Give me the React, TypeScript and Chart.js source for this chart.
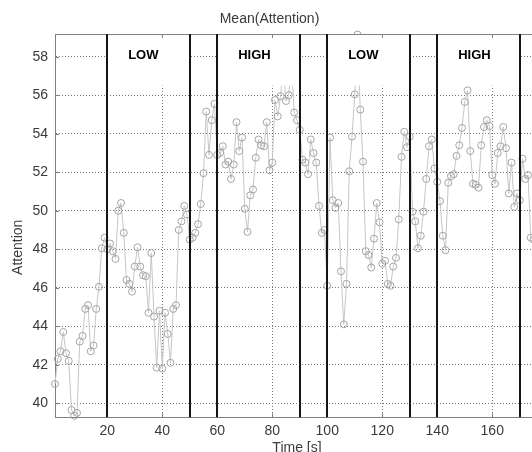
import React, { useEffect, useRef } from 'react';
import { Chart, registerables } from 'chart.js';

Chart.register(...registerables);

// ---- data ----
const TIME_START = 1; // first sample time [s], one sample per second
const attention: number[] = [
  41.0, 42.3, 42.7, 43.7, 42.6, 42.2, 39.65, 39.35, 39.5, 43.2,
  43.5, 44.9, 45.1, 42.7, 43.0, 44.9, 46.05, 48.05, 48.6, 48.0,
  48.3, 47.9, 47.5, 50.0, 50.4, 48.85, 46.4, 46.2, 45.8, 47.1,
  48.1, 47.1, 46.65, 46.6, 44.7, 47.8, 44.5, 41.85, 44.8, 41.8,
  44.7, 43.6, 42.1, 44.9, 45.1, 49.0, 49.45, 50.25, 49.8, 48.5,
  48.6, 48.85, 49.3, 50.35, 51.95, 55.15, 52.9, 54.7, 55.55, 52.9,
  53.0, 53.35, 52.4, 52.55, 51.65, 52.4, 54.6, 53.1, 53.8, 50.1,
  48.9, 50.8, 51.1, 52.75, 53.7, 53.4, 53.35, 54.6, 52.1, 52.5,
  55.75, 54.9, 55.95, 57.4, 55.7, 56.0, 57.6, 55.1, 54.7, 54.2,
  52.65, 52.5, 51.9, 53.7, 53.0, 52.5, 50.25, 48.85, 49.0, 46.1,
  53.8, 50.55, 50.15, 50.4, 46.85, 44.1, 46.2, 52.05, 53.85, 56.05,
  59.15, 55.25, 52.55, 47.9, 47.7, 47.05, 48.55, 50.4, 49.4, 47.25,
  47.4, 46.2, 46.1, 47.1, 47.55, 49.55, 52.8, 54.1, 53.3, 53.85,
  49.95, 49.45, 48.05, 48.7, 49.95, 51.65, 53.35, 53.7, 52.2, 51.5,
  50.5, 48.7, 47.95, 51.45, 51.8, 51.9, 52.85, 53.4, 54.3, 55.65,
  56.25, 53.1, 51.4, 51.35, 51.2, 53.4, 54.35, 54.7, 54.4, 51.85,
  51.4, 53.0, 53.35, 54.35, 53.25, 50.9, 52.5, 50.2, 50.9, 50.55,
  52.7, 51.65, 51.85, 48.6, 48.5, 49.0, 48.8,
];

const phaseStarts = [20, 60, 100, 140];
const phaseEnds = [50, 90, 130, 170];
const phaseLabels = ['LOW', 'HIGH', 'LOW', 'HIGH'];

const X_MIN = 1;
const X_MAX = 177;
const Y_MIN = 39.27;
const Y_MAX = 59.18;
const BOX_BOTTOM = 56.5; // lower edge of the label boxes (attention units)
const LABEL_Y = 58.05;
const LABEL_OFFSET = 7.6; // seconds from phase start to label
const Y_TITLE_AT = 48.1; // attention value at which the y-axis title is centred

const TITLE = 'Mean(Attention)';
const X_TITLE = 'Time [s]';
const Y_TITLE = 'Attention';

const FONT = '"Liberation Sans", Arial, sans-serif';
const TEXT_COLOR = '#3a3a3a';
const AXIS_COLOR = '#808080';
const GRID_COLOR = '#7a7a7a';

const phasePlugin = {
  id: 'phases',
  afterDatasetsDraw(chart: any) {
    const { ctx, chartArea, scales } = chart;
    const x = scales.x;
    const y = scales.y;
    ctx.save();
    // white label boxes
    ctx.fillStyle = '#ffffff';
    const yTop = chartArea.top;
    const yBot = y.getPixelForValue(BOX_BOTTOM);
    phaseStarts.forEach((s, i) => {
      const x0 = x.getPixelForValue(s);
      const x1 = x.getPixelForValue(phaseEnds[i]);
      ctx.fillRect(x0, yTop, x1 - x0, yBot - yTop);
    });
    // labels
    ctx.fillStyle = '#000000';
    ctx.font = 'bold 13px ' + FONT;
    ctx.textBaseline = 'middle';
    ctx.textAlign = 'left';
    phaseStarts.forEach((s, i) => {
      ctx.fillText(phaseLabels[i], x.getPixelForValue(s + LABEL_OFFSET), y.getPixelForValue(LABEL_Y));
    });
    // top frame line
    ctx.strokeStyle = AXIS_COLOR;
    ctx.lineWidth = 1;
    ctx.beginPath();
    ctx.moveTo(chartArea.left, Math.round(chartArea.top) + 0.5);
    ctx.lineTo(chartArea.right, Math.round(chartArea.top) + 0.5);
    ctx.stroke();
    // inward tick marks
    ctx.beginPath();
    x.ticks.forEach((t: any) => {
      const px = Math.round(x.getPixelForValue(t.value)) + 0.5;
      ctx.moveTo(px, chartArea.top);
      ctx.lineTo(px, chartArea.top + 4);
      ctx.moveTo(px, chartArea.bottom);
      ctx.lineTo(px, chartArea.bottom - 4);
    });
    y.ticks.forEach((t: any) => {
      const py = Math.round(y.getPixelForValue(t.value)) + 0.5;
      ctx.moveTo(chartArea.left, py);
      ctx.lineTo(chartArea.left + 4, py);
    });
    ctx.stroke();
    // phase boundary lines
    ctx.strokeStyle = '#151515';
    ctx.lineWidth = 2;
    [...phaseStarts, ...phaseEnds].forEach((v) => {
      const px = Math.round(x.getPixelForValue(v));
      ctx.beginPath();
      ctx.moveTo(px, chartArea.top);
      ctx.lineTo(px, chartArea.bottom);
      ctx.stroke();
    });
    // y-axis title
    ctx.fillStyle = TEXT_COLOR;
    ctx.font = '14px ' + FONT;
    ctx.textAlign = 'center';
    ctx.textBaseline = 'middle';
    ctx.translate(18, y.getPixelForValue(Y_TITLE_AT));
    ctx.rotate(-Math.PI / 2);
    ctx.fillText(Y_TITLE, 0, 0);
    ctx.restore();
  },
};

export default function App() {
  const ref = useRef<HTMLCanvasElement | null>(null);

  useEffect(() => {
    if (!ref.current) return;
    const points = attention.map((v, i) => ({ x: TIME_START + i, y: v }));
    const chart = new Chart(ref.current, {
      type: 'line',
      data: {
        datasets: [
          {
            data: points,
            borderColor: '#c6c6c6',
            borderWidth: 1,
            pointRadius: 3.5,
            pointBorderColor: '#a4a4a4',
            pointBackgroundColor: 'rgba(0,0,0,0)',
            pointBorderWidth: 1,
            tension: 0,
            clip: false as any,
          },
        ],
      },
      options: {
        responsive: false,
        animation: false,
        devicePixelRatio: 1,
        events: [],
        layout: { padding: { left: 0, right: 45, top: 0, bottom: 0 } },
        plugins: {
          legend: { display: false },
          tooltip: { enabled: false },
          title: {
            display: true,
            text: TITLE,
            color: TEXT_COLOR,
            font: { family: FONT, size: 14, weight: 'normal' as any, lineHeight: 1.2 },
            padding: { top: 10.6, bottom: 6.6 },
          },
        },
        scales: {
          x: {
            type: 'linear',
            min: X_MIN,
            max: X_MAX,
            afterFit: (s: any) => {
              s.height = 39.7;
            },
            ticks: {
              stepSize: 20,
              includeBounds: false,
              color: TEXT_COLOR,
              font: { family: FONT, size: 14 },
              padding: 5,
              maxRotation: 0,
            },
            grid: {
              color: GRID_COLOR,
              drawTicks: false,
              lineWidth: 1,
            },
            border: { display: true, color: AXIS_COLOR, width: 1, dash: [1, 2] },
            title: {
              display: true,
              text: X_TITLE,
              color: TEXT_COLOR,
              font: { family: FONT, size: 14 },
              padding: { top: 0, bottom: 0 },
            },
          },
          y: {
            type: 'linear',
            min: Y_MIN,
            max: Y_MAX,
            afterFit: (s: any) => {
              s.width = 55;
            },
            ticks: {
              stepSize: 2,
              includeBounds: false,
              color: TEXT_COLOR,
              font: { family: FONT, size: 14 },
              padding: 7,
            },
            grid: {
              color: GRID_COLOR,
              drawTicks: false,
              lineWidth: 1,
            },
            border: { display: true, color: AXIS_COLOR, width: 1, dash: [1, 2] },
            title: { display: false },
          },
        },
      },
      plugins: [phasePlugin],
    });
    return () => chart.destroy();
  }, []);

  return (
    <div
      style={{
        position: 'fixed',
        left: 0,
        top: 0,
        width: 532,
        height: 452,
        overflow: 'hidden',
        background: '#ffffff',
      }}
    >
      <canvas ref={ref} width={584} height={457} style={{ display: 'block', width: 584, height: 457 }} />
    </div>
  );
}
